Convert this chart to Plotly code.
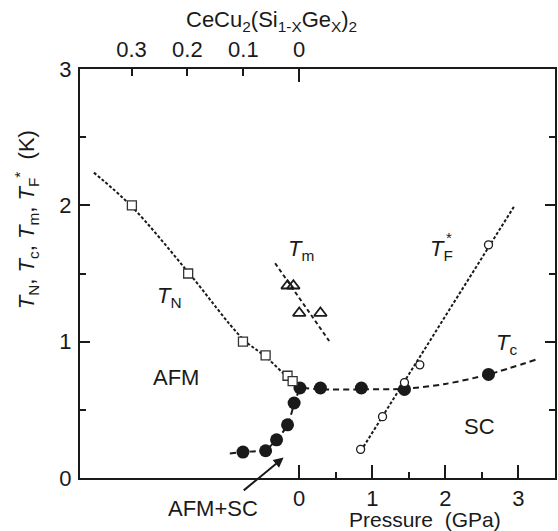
import plotly.graph_objects as go

# ---- data ----
tn_p = [-2.29, -1.52, -0.77, -0.46, -0.16, -0.09]
tn_t = [2.00, 1.50, 1.00, 0.90, 0.75, 0.71]

tm_p = [-0.16, -0.08, 0.00, 0.29]
tm_t = [1.41, 1.41, 1.21, 1.21]

tc_p = [-0.77, -0.46, -0.31, -0.16, -0.07, 0.01, 0.29, 0.85, 1.44, 2.59]
tc_t = [0.19, 0.20, 0.28, 0.39, 0.55, 0.66, 0.66, 0.66, 0.65, 0.76]

tf_p = [0.84, 1.14, 1.44, 1.65, 2.59]
tf_t = [0.21, 0.45, 0.70, 0.83, 1.71]

# guide-to-eye curves
tn_fit_p = [-2.81, -2.29, -1.52, -0.77, -0.46, -0.16, -0.03]
tn_fit_t = [2.24, 1.99, 1.51, 1.02, 0.89, 0.74, 0.69]
tc_fit_p = [-0.95, -0.77, -0.46, -0.31, -0.16, -0.07, 0.02, 0.30, 0.85, 1.44, 2.00, 2.59, 3.25]
tc_fit_t = [0.18, 0.19, 0.21, 0.28, 0.39, 0.54, 0.65, 0.65, 0.65, 0.655, 0.69, 0.76, 0.87]
tf_fit_p = [0.88, 2.95]
tf_fit_t = [0.23, 2.00]
tm_fit_p = [-0.33, 0.41]
tm_fit_t = [1.575, 1.005]

p_ticks = [0, 1, 2, 3]
p_minor = [0.5, 1.5, 2.5]
t_ticks = [0, 1, 2, 3]
t_minor = [0.5, 1.5, 2.5]
ge_ticks = [0.3, 0.2, 0.1]
ge_zero = [0]
gpa_per_x = 7.65
p_range = [-3.0, 3.5]
t_range = [0, 3]

FONT = "Liberation Sans, Arial, sans-serif"
INK = "#1a1a1a"
FS = 22

fig = go.Figure()

# curves
fig.add_trace(go.Scatter(x=tn_fit_p, y=tn_fit_t, mode="lines", line_shape="spline",
                         line=dict(color=INK, width=2, dash="3px,2px"), hoverinfo="skip"))
fig.add_trace(go.Scatter(x=tc_fit_p, y=tc_fit_t, mode="lines", line_shape="spline",
                         line=dict(color=INK, width=2, dash="6px,4px", smoothing=0.8), hoverinfo="skip"))
fig.add_trace(go.Scatter(x=tf_fit_p, y=tf_fit_t, mode="lines",
                         line=dict(color=INK, width=2, dash="3px,2px"), hoverinfo="skip"))
fig.add_trace(go.Scatter(x=tm_fit_p, y=tm_fit_t, mode="lines",
                         line=dict(color=INK, width=2, dash="4px,3px"), hoverinfo="skip"))

# markers
fig.add_trace(go.Scatter(x=tc_p, y=tc_t, mode="markers",
                         marker=dict(symbol="circle", size=13, color=INK, line=dict(width=0))))
fig.add_trace(go.Scatter(x=tf_p, y=tf_t, mode="markers",
                         marker=dict(symbol="circle", size=8, color="white", line=dict(color=INK, width=1.3))))
fig.add_trace(go.Scatter(x=tn_p, y=tn_t, mode="markers",
                         marker=dict(symbol="square", size=9, color="white", line=dict(color="#333", width=1.3))))
fig.add_trace(go.Scatter(x=tm_p, y=tm_t, mode="markers",
                         marker=dict(symbol="triangle-up-open", size=11, color=INK, line=dict(color=INK, width=1.8))))

# dummy traces for top axes
fig.add_trace(go.Scatter(x=[None], y=[None], xaxis="x2", showlegend=False))
fig.add_trace(go.Scatter(x=[None], y=[None], xaxis="x3", showlegend=False))

top_range = [-p_range[0] / gpa_per_x, -p_range[1] / gpa_per_x]

fig.update_layout(
    width=558, height=531,
    margin=dict(l=80, r=1, t=69, b=53),
    paper_bgcolor="white", plot_bgcolor="white",
    showlegend=False,
    font=dict(family=FONT, size=FS, color=INK),
    xaxis=dict(range=p_range, showgrid=False, zeroline=False,
               showline=True, linecolor=INK, linewidth=2, mirror=True,
               tickvals=p_ticks, ticktext=[str(v) for v in p_ticks],
               ticks="inside", ticklen=13, tickwidth=2, tickcolor=INK,
               ticklabelstandoff=0,
               minor=dict(tickvals=p_minor, ticks="inside", ticklen=6, tickwidth=2, tickcolor=INK),
               tickfont=dict(size=FS)),
    xaxis2=dict(overlaying="x", side="top", range=top_range, showgrid=False, zeroline=False,
                showline=False, tickvals=ge_ticks, ticktext=[str(v) for v in ge_ticks],
                ticks="inside", ticklen=7, tickwidth=2, tickcolor=INK,
                ticklabelstandoff=7, tickfont=dict(size=FS)),
    xaxis3=dict(overlaying="x", side="top", range=top_range, showgrid=False, zeroline=False,
                showline=False, tickvals=ge_zero, ticktext=["0"],
                ticks="inside", ticklen=13, tickwidth=2, tickcolor=INK,
                ticklabelstandoff=7, tickfont=dict(size=FS)),
    yaxis=dict(range=t_range, showgrid=False, zeroline=False,
               showline=True, linecolor=INK, linewidth=2, mirror="ticks",
               tickvals=t_ticks, ticktext=[str(v) for v in t_ticks],
               ticks="inside", ticklen=10, tickwidth=2, tickcolor=INK,
               ticklabelstandoff=2,
               minor=dict(tickvals=t_minor, ticks="inside", ticklen=6, tickwidth=2, tickcolor=INK),
               tickfont=dict(size=FS)),
)

def txt(x, y, s, size=FS, xref="x", yref="y", angle=0, yanchor="middle"):
    fig.add_annotation(x=x, y=y, xref=xref, yref=yref, text=s, showarrow=False,
                       font=dict(size=size, family=FONT, color=INK), textangle=angle,
                       xanchor="center", yanchor=yanchor, borderpad=0)

def px(xpix, ypix):
    return (xpix - 80) / 477, (478 - ypix) / 409

txt(-1.77, 1.33, "<i>T</i><sub>N</sub>")
txt(0.02, 1.67, "<i>T</i><sub>m</sub>")
txt(1.94, 1.67, "<i>T</i><sub>F</sub>")
txt(2.055, 1.765, "*", size=15)
txt(2.84, 0.98, "<i>T</i><sub>c</sub>")
txt(-1.69, 0.74, "AFM")
txt(2.47, 0.375, "SC")
ax_, ay_ = px(214, 508)
txt(ax_, ay_, "AFM+SC", xref="paper", yref="paper")

fig.add_annotation(x=-0.214, y=0.15, ax=-0.78, ay=-0.10, axref="x", ayref="y",
                   xref="x", yref="y", showarrow=True, arrowhead=2, arrowsize=1,
                   arrowwidth=2, arrowcolor=INK, text="")

# axis titles
tx, ty = px(426, 532)
txt(tx, ty, "Pressure  (GPa)", size=21, xref="paper", yref="paper", yanchor="bottom")
tx, ty = px(272, 21)
txt(tx, ty, "CeCu<sub>2</sub>(Si<sub>1-X</sub>Ge<sub>X</sub>)<sub>2</sub>", size=22, xref="paper", yref="paper")
tx, ty = px(26, 220)
txt(tx, ty, "<i>T</i><sub>N</sub>, <i>T</i><sub>c</sub>, <i>T</i><sub>m</sub>, <i>T</i><sub>F</sub><sup>*</sup>  (K)",
    xref="paper", yref="paper", angle=-90)

fig.write_html("out.html", post_script="document.body.style.margin='0';",
               config={"displayModeBar": False})
